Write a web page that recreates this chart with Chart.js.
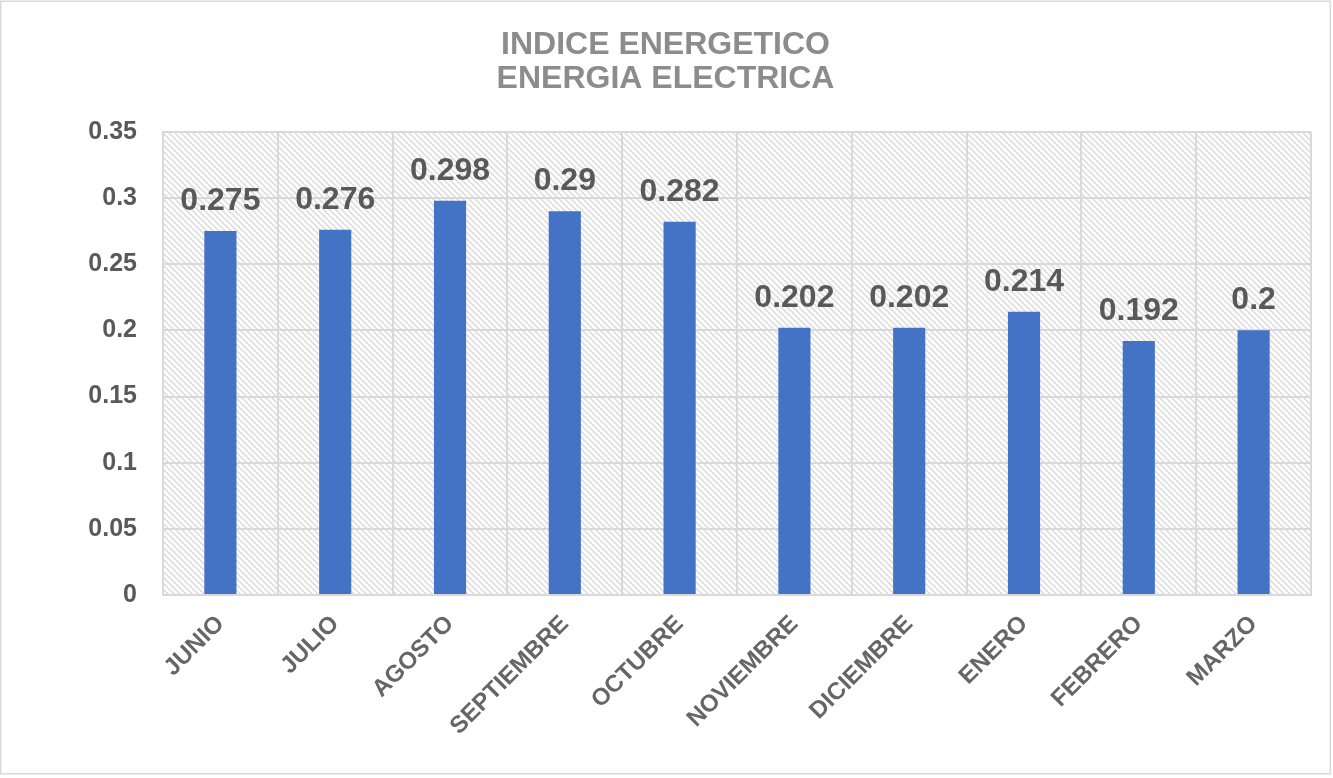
<!DOCTYPE html>
<html>
<head>
<meta charset="utf-8">
<script src="https://cdn.jsdelivr.net/npm/chart.js@4.4.1/dist/chart.umd.min.js"></script>
<style>
  html, body { margin: 0; padding: 0; background: #ffffff; }
  #wrap { width: 1333px; height: 778px; position: relative; }
</style>
</head>
<body>
<div id="wrap"><canvas id="c" width="1333" height="778"></canvas></div>
<script>
const titleLines = ["INDICE ENERGETICO", "ENERGIA ELECTRICA"];
const categories = ["JUNIO", "JULIO", "AGOSTO", "SEPTIEMBRE", "OCTUBRE", "NOVIEMBRE", "DICIEMBRE", "ENERO", "FEBRERO", "MARZO"];
const values = [0.275, 0.276, 0.298, 0.29, 0.282, 0.202, 0.202, 0.214, 0.192, 0.2];
const yTickValues = [0, 0.05, 0.1, 0.15, 0.2, 0.25, 0.3, 0.35];
const yTickLabels = ["0", "0.05", "0.1", "0.15", "0.2", "0.25", "0.3", "0.35"];

const FONT = "'Liberation Sans', Arial, sans-serif";

function makePattern(ctx) {
  const s = 6;
  const pc = document.createElement('canvas');
  pc.width = s; pc.height = s;
  const p = pc.getContext('2d');
  p.fillStyle = '#ffffff';
  p.fillRect(0, 0, s, s);
  p.strokeStyle = '#dedede';
  p.lineWidth = 1.6;
  p.beginPath();
  p.moveTo(-1, -1); p.lineTo(s + 1, s + 1);
  p.moveTo(-1, s - 1); p.lineTo(1, s + 1);
  p.moveTo(s - 1, -1); p.lineTo(s + 1, 1);
  p.stroke();
  return ctx.createPattern(pc, 'repeat');
}

const bgPlugin = {
  id: 'bgPlugin',
  beforeDraw(chart) {
    const ctx = chart.ctx;
    const a = chart.chartArea;
    ctx.save();
    ctx.fillStyle = '#ffffff';
    ctx.fillRect(0, 0, chart.width, chart.height);
    ctx.fillStyle = makePattern(ctx);
    ctx.fillRect(a.left, a.top, a.right - a.left, a.bottom - a.top);
    ctx.strokeStyle = '#d9d9d9';
    ctx.lineWidth = 1.5;
    ctx.strokeRect(0.75, 1.25, 1329.5, 772.5);
    ctx.restore();
  }
};

const labelPlugin = {
  id: 'labelPlugin',
  afterDatasetsDraw(chart) {
    const ctx = chart.ctx;
    const meta = chart.getDatasetMeta(0);
    ctx.save();
    ctx.font = "bold 32px " + FONT;
    ctx.fillStyle = '#595959';
    ctx.textAlign = 'center';
    ctx.textBaseline = 'alphabetic';
    meta.data.forEach((bar, i) => {
      ctx.fillText(String(values[i]), bar.x, bar.y - 21);
    });
    ctx.restore();
  }
};

new Chart(document.getElementById('c'), {
  type: 'bar',
  data: {
    labels: categories,
    datasets: [{
      data: values,
      backgroundColor: '#4472C4',
      borderWidth: 0,
      categoryPercentage: 1,
      barPercentage: 0.28
    }]
  },
  options: {
    responsive: false,
    animation: false,
    layout: { padding: { top: 0, right: 22, bottom: 0, left: 20 } },
    plugins: {
      legend: { display: false },
      tooltip: { enabled: false },
      title: {
        display: true,
        text: titleLines,
        color: '#8c8c8c',
        font: { family: FONT, size: 32, weight: 'bold', lineHeight: 1.06 },
        padding: { top: 28, bottom: 36 }
      }
    },
    scales: {
      x: {
        afterFit(scale) { scale.height = 183; },
        grid: { color: '#d9d9d9', lineWidth: 2, drawTicks: false, offset: true },
        border: { color: '#d9d9d9', width: 2 },
        ticks: {
          autoSkip: false,
          minRotation: 45,
          maxRotation: 45,
          padding: 15,
          color: '#666666',
          font: { family: FONT, size: 24, weight: 'bold' }
        }
      },
      y: {
        min: 0,
        max: 0.35,
        afterFit(scale) { scale.width = 143; },
        afterBuildTicks(scale) { scale.ticks = yTickValues.map(v => ({ value: v })); },
        grid: { color: '#d9d9d9', lineWidth: 2, drawTicks: false },
        border: { color: '#d9d9d9', width: 2 },
        ticks: {
          padding: 26,
          color: '#595959',
          font: { family: FONT, size: 25, weight: 'bold' },
          callback(v) {
            const i = yTickValues.findIndex(t => Math.abs(t - v) < 1e-9);
            return i >= 0 ? yTickLabels[i] : '';
          }
        }
      }
    }
  },
  plugins: [bgPlugin, labelPlugin]
});
</script>
</body>
</html>
